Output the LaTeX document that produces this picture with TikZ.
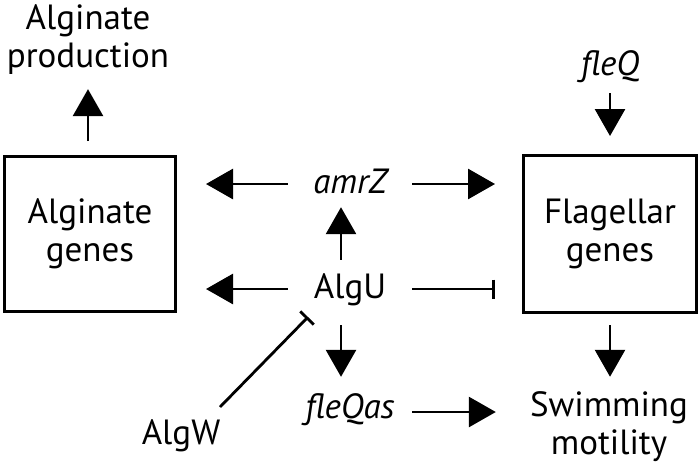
\documentclass[tikz,border=0pt]{standalone}
\usepackage{fontspec}
\setmainfont{PT Sans}
\usetikzlibrary{arrows.meta}

\tikzset{
  txt/.style = {inner sep=0pt, font=\fontsize{35}{38}\selectfont, align=center},
  gene/.style = {txt, font=\fontsize{35}{38}\selectfont\itshape},
  mid/.style = {minimum width=124pt, text height=25pt, text depth=7pt},
  genebox/.style = {txt, draw, line width=2.7pt},
  act/.style = {-{Triangle[length=27pt,width=30pt]}, line width=2.8pt},
  rep/.style = {-{Bar[width=19pt]}, line width=2.8pt}
}

\begin{document}
\begin{tikzpicture}%
    [x = 1pt, y = -1pt]
    \useasboundingbox (0,0) rectangle (700,466);

    \node [genebox, minimum width=171.3pt, minimum height=155.3pt] (algbox) at (90,234) {Alginate\\genes};
    \node [genebox, minimum width=173.3pt, minimum height=157.3pt] (flabox) at (610,234) {Flagellar\\genes};
    \node [txt] (prod) at (88,40) {Alginate\\production};
    \node [txt, minimum width=162pt] (swim) at (609,427) {Swimming\\motility};
    \node [gene, mid, minimum width=0pt, anchor=base] (fleQ) at (610,75) {fleQ};
    \node [gene, mid, anchor=base] (amrZ) at (350,193) {amrZ};
    \node [txt, mid, anchor=base] (algU) at (350,298) {AlgU};
    \node [gene, mid, anchor=base] (fleQas) at (350,418) {fleQas};
    \node [txt, mid, minimum width=0pt, anchor=base] (algW) at (181,444) {AlgW};

    \draw [act, shorten <=14pt, shorten >=14pt] (prod.south |- algbox.north) -- (prod.south);
    \draw [act, shorten <=11pt, shorten >=18pt] (fleQ.south) -- (fleQ.south |- flabox.north);
    \draw [act, shorten <=11pt, shorten >=15pt] (flabox.south) -- (flabox.south |- swim.north);

    \draw [act, shorten >=29pt] (amrZ.west) -- (amrZ.west -| algbox.east);
    \draw [act, shorten >=27pt] (amrZ.east) -- (amrZ.east -| flabox.west);
    \draw [act, shorten >=29pt] (algU.west) -- (algU.west -| algbox.east);
    \draw [rep, shorten >=27pt] (algU.east) -- (algU.east -| flabox.west);

    \draw [act, shorten <=13pt, shorten >=7pt] ([xshift=-9pt]algU.north) -- ([xshift=-9pt]algU.north |- amrZ.south);
    \draw [act, shorten <=20pt, shorten >=16pt] ([xshift=-9pt]algU.south) -- ([xshift=-9pt]algU.south |- fleQas.north);
    \draw [act, shorten >=32pt] ([yshift=-3pt]fleQas.east) -- ([yshift=-3pt]fleQas.east -| swim.west);

    \draw [rep] ([shift={(39pt,28pt)}]algW.center) -- ([shift={(-42pt,-28pt)}]algU.center);
\end{tikzpicture}
\end{document}
